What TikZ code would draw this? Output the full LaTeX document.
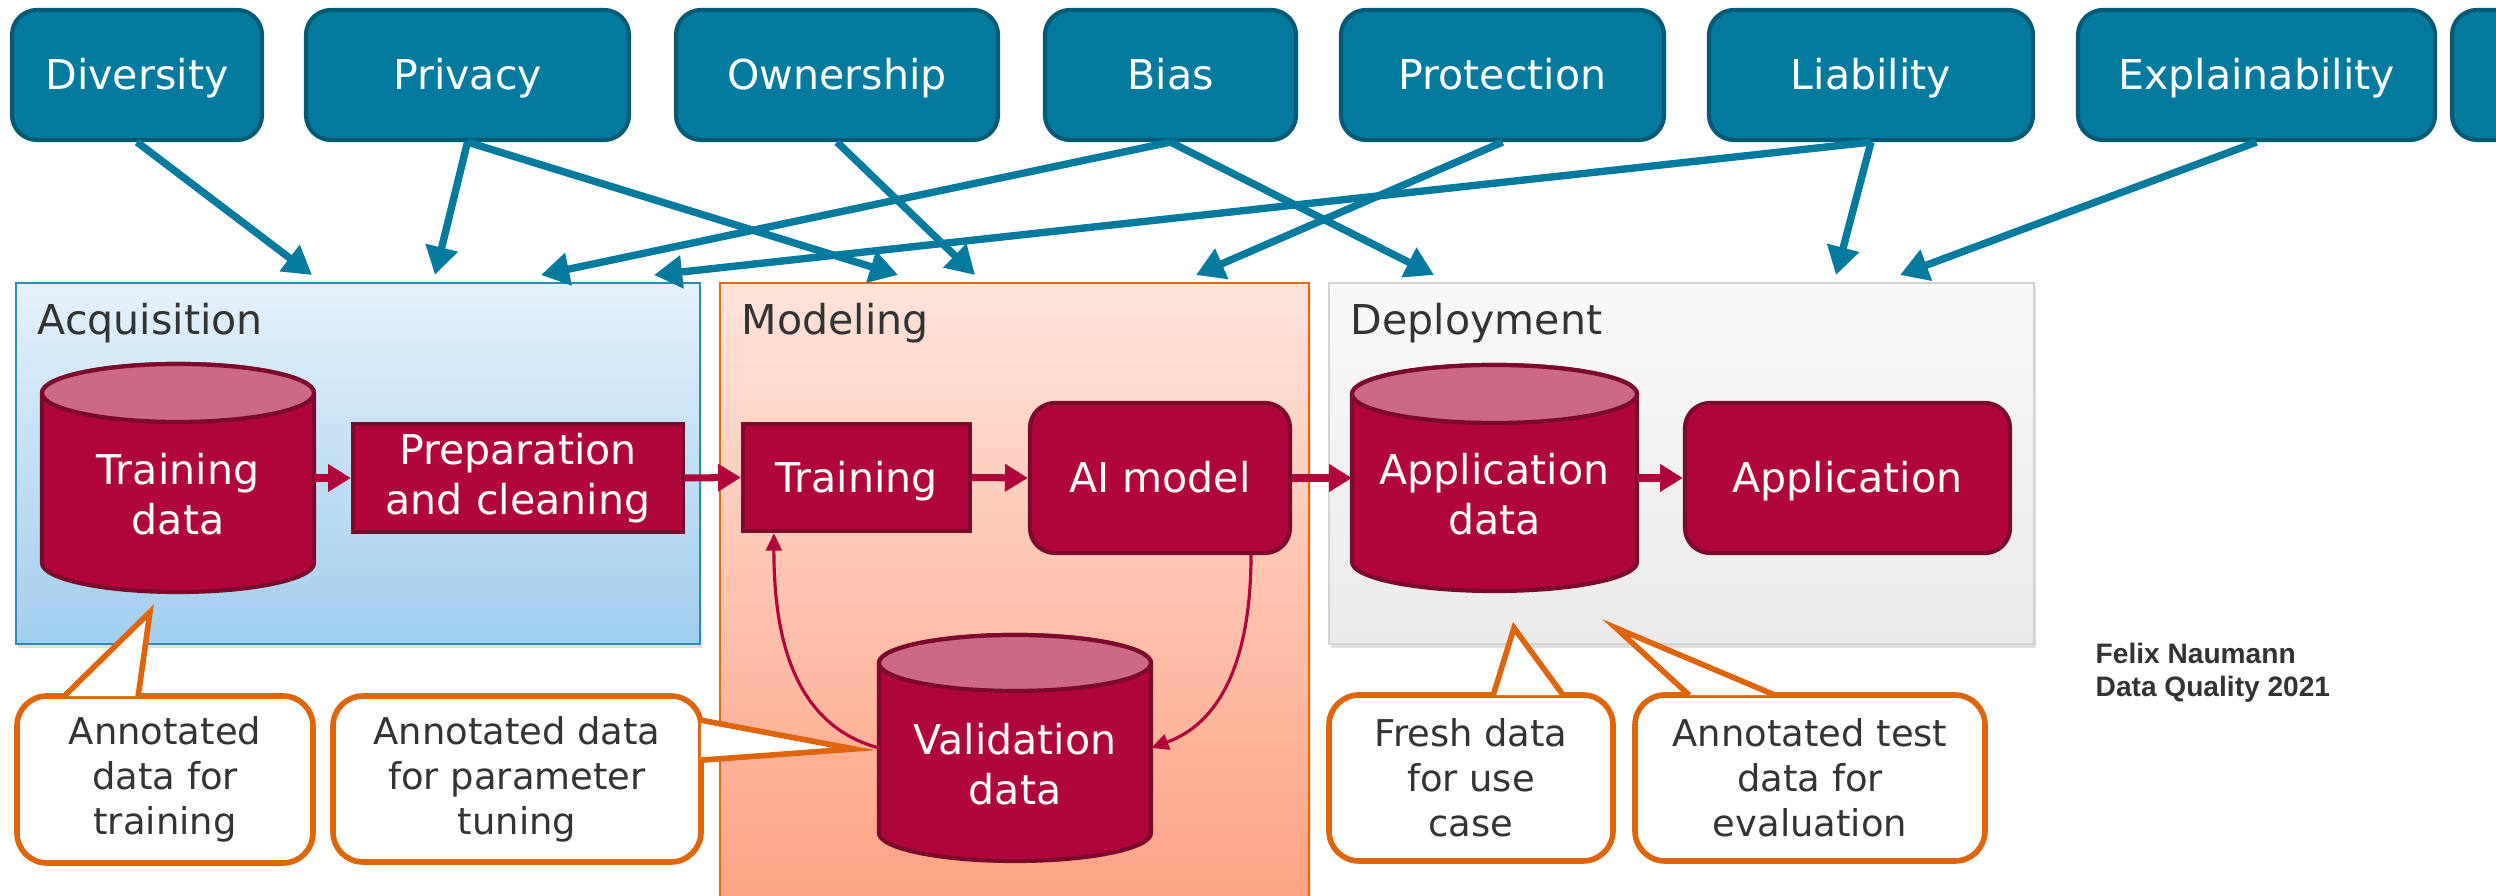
\documentclass[tikz,border=0pt]{standalone}
\usepackage{fontspec}
\setmainfont{DejaVu Sans}
\newfontfamily\creditfont{Liberation Sans}
\usetikzlibrary{arrows.meta}
\usetikzlibrary{shadows}
\definecolor{hpi-blue}{HTML}{037A9E}
\definecolor{hpi-darkblue}{HTML}{035A75}
\definecolor{hpi-red}{HTML}{B1063A}
\definecolor{hpi-darkred}{HTML}{7C0A2D}
\definecolor{hpi-rose}{HTML}{CD6984}
\definecolor{hpi-orange}{HTML}{DF650C}
\definecolor{label-grey}{HTML}{333333}
\definecolor{acq-top}{HTML}{E4F1FB}
\definecolor{acq-bottom}{HTML}{A1CEEE}
\definecolor{acq-line}{HTML}{2A8DB5}
\definecolor{mod-top}{HTML}{FFE4DB}
\definecolor{mod-bottom}{HTML}{FCA080}
\definecolor{mod-line}{HTML}{E36C0A}
\definecolor{dep-top}{HTML}{F9F9F9}
\definecolor{dep-bottom}{HTML}{EAEAEA}
\definecolor{dep-line}{HTML}{D3D3D3}
\colorlet{topicfill}{hpi-blue}
\colorlet{topicline}{hpi-darkblue}
\colorlet{storefill}{hpi-red}
\colorlet{storeline}{hpi-darkred}
\colorlet{noteline}{hpi-orange}
\newcommand{\mainsize}{\fontsize{11.7pt}{14.2pt}\selectfont}
\newcommand{\notesize}{\fontsize{10.5pt}{12.8pt}\selectfont}
\tikzset{
  topicbox/.style={rectangle, rounded corners=0.25cm, fill=topicfill, draw=topicline,
    line width=1.2pt, text=white, font=\mainsize, minimum height=1.30cm,
    text height=0.30cm, text depth=0cm, inner sep=0pt},
  topicarrow/.style={draw=topicfill, line width=2.1pt, -{Triangle[length=8pt, width=9pt]}},
  stagebox/.style={anchor=north west, line width=0.8pt, inner sep=0pt, outer sep=0pt,
    drop shadow={opacity=0.25, shadow xshift=0.5pt, shadow yshift=-1pt}},
  stagelabel/.style={anchor=base west, font=\mainsize, text=label-grey, inner sep=0pt},
  stepbox/.style={rectangle, fill=storefill, draw=storeline, line width=1.2pt, text=white,
    font=\mainsize, align=center, inner sep=0pt},
  modelbox/.style={stepbox, rounded corners=0.25cm, text height=0.30cm, text depth=0cm},
  storebox/.style={rectangle, inner sep=0pt, outer sep=0pt},
  storebody/.style={fill=storefill, draw=storeline, line width=1.2pt},
  storelid/.style={fill=hpi-rose, draw=storeline, line width=1.2pt},
  storetext/.style={text=white, font=\mainsize, align=center, inner sep=0pt},
  flow/.style={draw=storefill, line width=2pt, -{Triangle[length=6.5pt, width=7.5pt]}},
  loop/.style={draw=storefill, line width=0.9pt, -{Triangle[length=5pt, width=4.5pt]}},
  note/.style={rectangle, rounded corners=0.3cm, fill=white, draw=noteline, line width=1.6pt,
    text=label-grey, font=\notesize, align=center, inner sep=0pt},
  notetip/.style={fill=white, draw=noteline, line width=1.6pt, line join=miter},
  credit/.style={anchor=base west, align=left, text=label-grey, inner sep=0pt,
    font=\creditfont\bfseries\fontsize{8pt}{9.4pt}\selectfont},
}
\newcommand{\datastore}[6]{%
% #1 name, #2 centre, #3 width, #4 height, #5 lid radius, #6 text
\node[storebox, minimum width=#3, minimum height=#4] (#1) at (#2) {};
% body
\draw[storebody] ([yshift=-#5]#1.north west) -- ([yshift=#5]#1.south west)
  arc[start angle=180, end angle=360, x radius=#3/2, y radius=#5]
  -- ([yshift=-#5]#1.north east)
  arc[start angle=0, end angle=180, x radius=#3/2, y radius=#5] -- cycle;
% lid
\draw[storelid] ([yshift=-#5]#1.north) ellipse[x radius=#3/2, y radius=#5];
\node[storetext] (#1-text) at ([yshift=-#5/2-0.02cm]#1.center) {#6};
}
\newcommand{\notetip}[3]{%
\filldraw[notetip] (#1) -- (#2) -- (#3);
}

\begin{document}
\begin{tikzpicture}
\path[use as bounding box] (0,0) rectangle (24.96,-8.96);
\fill[white] (0,0) rectangle (24.96,-8.96);
\clip (0,0) rectangle (24.96,-8.96);
% stages
\node[stagebox, top color=acq-top, bottom color=acq-bottom, draw=acq-line,
  minimum width=6.84cm, minimum height=3.61cm] (acq) at (0.16,-2.83) {};
\node[stagebox, top color=mod-top, bottom color=mod-bottom, draw=mod-line,
  minimum width=5.89cm, minimum height=6.40cm] (mod) at (7.20,-2.83) {};
\node[stagebox, top color=dep-top, bottom color=dep-bottom, draw=dep-line,
  minimum width=7.05cm, minimum height=3.61cm] (dep) at (13.29,-2.83) {};
\node[stagelabel] (acq-label) at ([xshift=0.21cm, yshift=-0.52cm]acq.north west) {Acquisition};
\node[stagelabel] (mod-label) at ([xshift=0.21cm, yshift=-0.52cm]mod.north west) {Modeling};
\node[stagelabel] (dep-label) at ([xshift=0.21cm, yshift=-0.52cm]dep.north west) {Deployment};
% topics
\foreach \nm/\cx/\bw/\word in {div/1.37/2.50/Diversity, prv/4.675/3.23/Privacy,
    own/8.37/3.22/Ownership, bia/11.705/2.51/Bias, pro/15.025/3.23/Protection,
    lia/18.71/3.24/Liability, exp/22.565/3.57/Explainability, nxt/25.77/2.50/} {
  \node[topicbox, minimum width=\bw cm] (\nm) at (\cx,-0.75) {\word};
}
\foreach \from/\goal/\dx in {div/acq/2.96, prv/acq/4.19, prv/mod/1.78, own/mod/2.55,
    bia/acq/5.25, bia/dep/1.05, pro/mod/4.76, lia/acq/6.38, lia/dep/5.07, exp/dep/5.71} {
  \draw[topicarrow] (\from.south) -- ([xshift=\dx cm, yshift=0.08cm]\goal.north west);
}
% pipeline
\datastore{trd}{1.78,-4.78}{2.72cm}{2.28cm}{0.29cm}{Training\\data}
\node[stepbox, minimum width=3.30cm, minimum height=1.08cm] (prep) at (5.18,-4.78) {Preparation\\and cleaning};
\node[stepbox, minimum width=2.27cm, minimum height=1.07cm, text height=0.30cm, text depth=0cm] (trn) at (8.565,-4.775) {Training};
\node[modelbox, minimum width=2.60cm, minimum height=1.50cm] (aim) at (11.60,-4.78) {AI model};
\datastore{vld}{10.15,-7.48}{2.72cm}{2.26cm}{0.28cm}{Validation\\data}
\datastore{apd}{14.945,-4.78}{2.85cm}{2.26cm}{0.29cm}{Application\\data}
\node[modelbox, minimum width=3.25cm, minimum height=1.50cm] (app) at (18.475,-4.78) {Application};
\draw[flow] (trd.east) -- (prep.west);
\draw[flow] (prep.east) -- (trn.west);
\draw[flow] (trn.east) -- (aim.west);
\draw[flow] (aim.east) -- (apd.west);
\draw[flow] (apd.east) -- (app.west);
% notes
\node[note, minimum width=2.96cm, minimum height=1.67cm] (nt1) at (1.65,-7.795) {Annotated\\data for\\training};
\node[note, minimum width=3.68cm, minimum height=1.66cm] (nt2) at (5.17,-7.79) {Annotated data\\for parameter\\tuning};
\node[note, minimum width=2.84cm, minimum height=1.66cm] (nt3) at (14.71,-7.78) {Fresh data\\for use\\case};
\node[note, minimum width=3.50cm, minimum height=1.66cm] (nt4) at (18.10,-7.78) {Annotated test\\data for\\evaluation};
\coordinate (nt1-tip) at (1.50,-6.12);
\coordinate (nt2-tip) at (8.54,-7.49);
\coordinate (nt3-tip) at (15.14,-6.28);
\coordinate (nt4-tip) at (16.16,-6.28);
\notetip{[xshift=0.50cm, yshift=-0.03cm]nt1.north west}{nt1-tip}{[xshift=1.24cm, yshift=-0.03cm]nt1.north west}
\notetip{[xshift=-0.03cm, yshift=-0.27cm]nt2.north east}{nt2-tip}{[xshift=-0.03cm, yshift=-0.67cm]nt2.north east}
\notetip{[xshift=1.67cm, yshift=-0.03cm]nt3.north west}{nt3-tip}{[xshift=2.37cm, yshift=-0.03cm]nt3.north west}
\notetip{[xshift=0.57cm, yshift=-0.03cm]nt4.north west}{nt4-tip}{[xshift=1.43cm, yshift=-0.03cm]nt4.north west}
% validation loop
\draw[loop] (vld.west) to[out=165, in=-90] ([xshift=0.33cm]trn.south west);
\draw[loop] ([xshift=0.91cm]aim.south) to[out=-90, in=20] (vld.east);
\node[credit] (credit) at (20.95,-6.97) {Felix Naumann\\Data Quality 2021};
\end{tikzpicture}
\end{document}
